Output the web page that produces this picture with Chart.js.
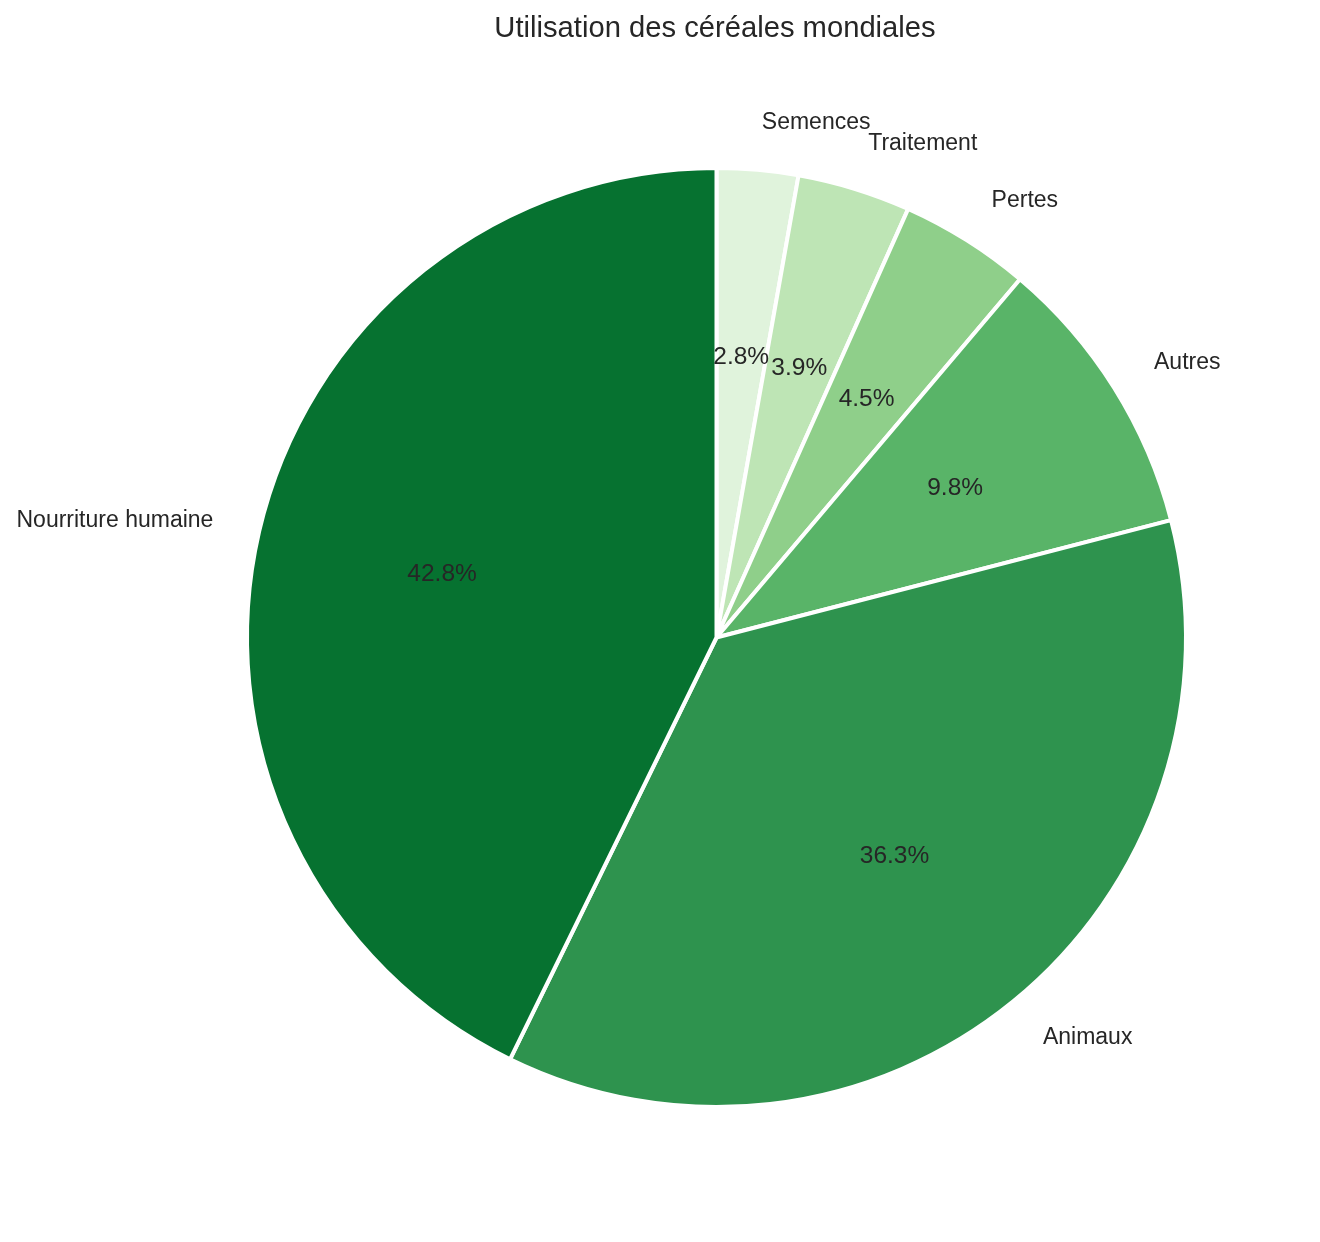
<!DOCTYPE html>
<html>
<head>
<meta charset="utf-8">
<script src="https://cdn.jsdelivr.net/npm/chart.js@4.4.0/dist/chart.umd.min.js"></script>
<style>
  html, body { margin: 0; padding: 0; background: #ffffff; }
  #wrap { width: 1320px; height: 1242px; position: relative; }
</style>
</head>
<body>
<div id="wrap"><canvas id="c" width="1320" height="1242"></canvas></div>
<script>
// Data (order as in the source, counter-clockwise from the top)
const categories = ["Nourriture humaine", "Animaux", "Autres", "Pertes", "Traitement", "Semences"];
const shares = [42.8, 36.3, 9.8, 4.5, 3.9, 2.8];
const sliceColors = ["#067230", "#2e934e", "#59b468", "#8fcf8a", "#bee5b5", "#e0f3dc"];
const chartTitle = "Utilisation des céréales mondiales";

// Chart.js draws clockwise, so reverse to get the same counter-clockwise layout
const labelsCW = categories.slice().reverse();
const valuesCW = shares.slice().reverse();
const colorsCW = sliceColors.slice().reverse();

const FONT = "'Liberation Sans', Arial, Helvetica, sans-serif";
const TEXT = "#262626";

const pieLabels = {
  id: 'pieLabels',
  afterDatasetsDraw(chart) {
    const ctx = chart.ctx;
    const meta = chart.getDatasetMeta(0);
    const data = chart.data.datasets[0].data;
    const total = data.reduce((a, b) => a + b, 0);
    ctx.save();
    ctx.fillStyle = TEXT;
    meta.data.forEach((arc, i) => {
      const p = arc.getProps(['x', 'y', 'startAngle', 'endAngle', 'outerRadius'], true);
      const mid = (p.startAngle + p.endAngle) / 2;
      const c = Math.cos(mid), s = Math.sin(mid);
      // category label
      ctx.font = "23px " + FONT;
      ctx.textBaseline = 'middle';
      ctx.textAlign = c > 0 ? 'left' : 'right';
      ctx.fillText(chart.data.labels[i], p.x + c * p.outerRadius * 1.1, p.y + s * p.outerRadius * 1.1);
      // percentage
      ctx.font = "24.5px " + FONT;
      ctx.textAlign = 'center';
      const pct = (data[i] / total * 100).toFixed(1) + '%';
      ctx.fillText(pct, p.x + c * p.outerRadius * 0.6, p.y + s * p.outerRadius * 0.6);
    });
    // title
    ctx.font = "29.2px " + FONT;
    ctx.textAlign = 'center';
    ctx.textBaseline = 'alphabetic';
    ctx.fillText(chartTitle, 715, 37);
    ctx.restore();
  }
};

new Chart(document.getElementById('c'), {
  type: 'pie',
  data: {
    labels: labelsCW,
    datasets: [{
      data: valuesCW,
      backgroundColor: colorsCW,
      borderColor: '#ffffff',
      borderWidth: 4,
      hoverOffset: 0,
      offset: 0
    }]
  },
  options: {
    responsive: false,
    animation: false,
    rotation: 0,
    layout: { padding: { left: 245, right: 132, top: 166, bottom: 133 } },
    plugins: {
      legend: { display: false },
      title: { display: false },
      tooltip: { enabled: false }
    }
  },
  plugins: [pieLabels]
});
</script>
</body>
</html>
